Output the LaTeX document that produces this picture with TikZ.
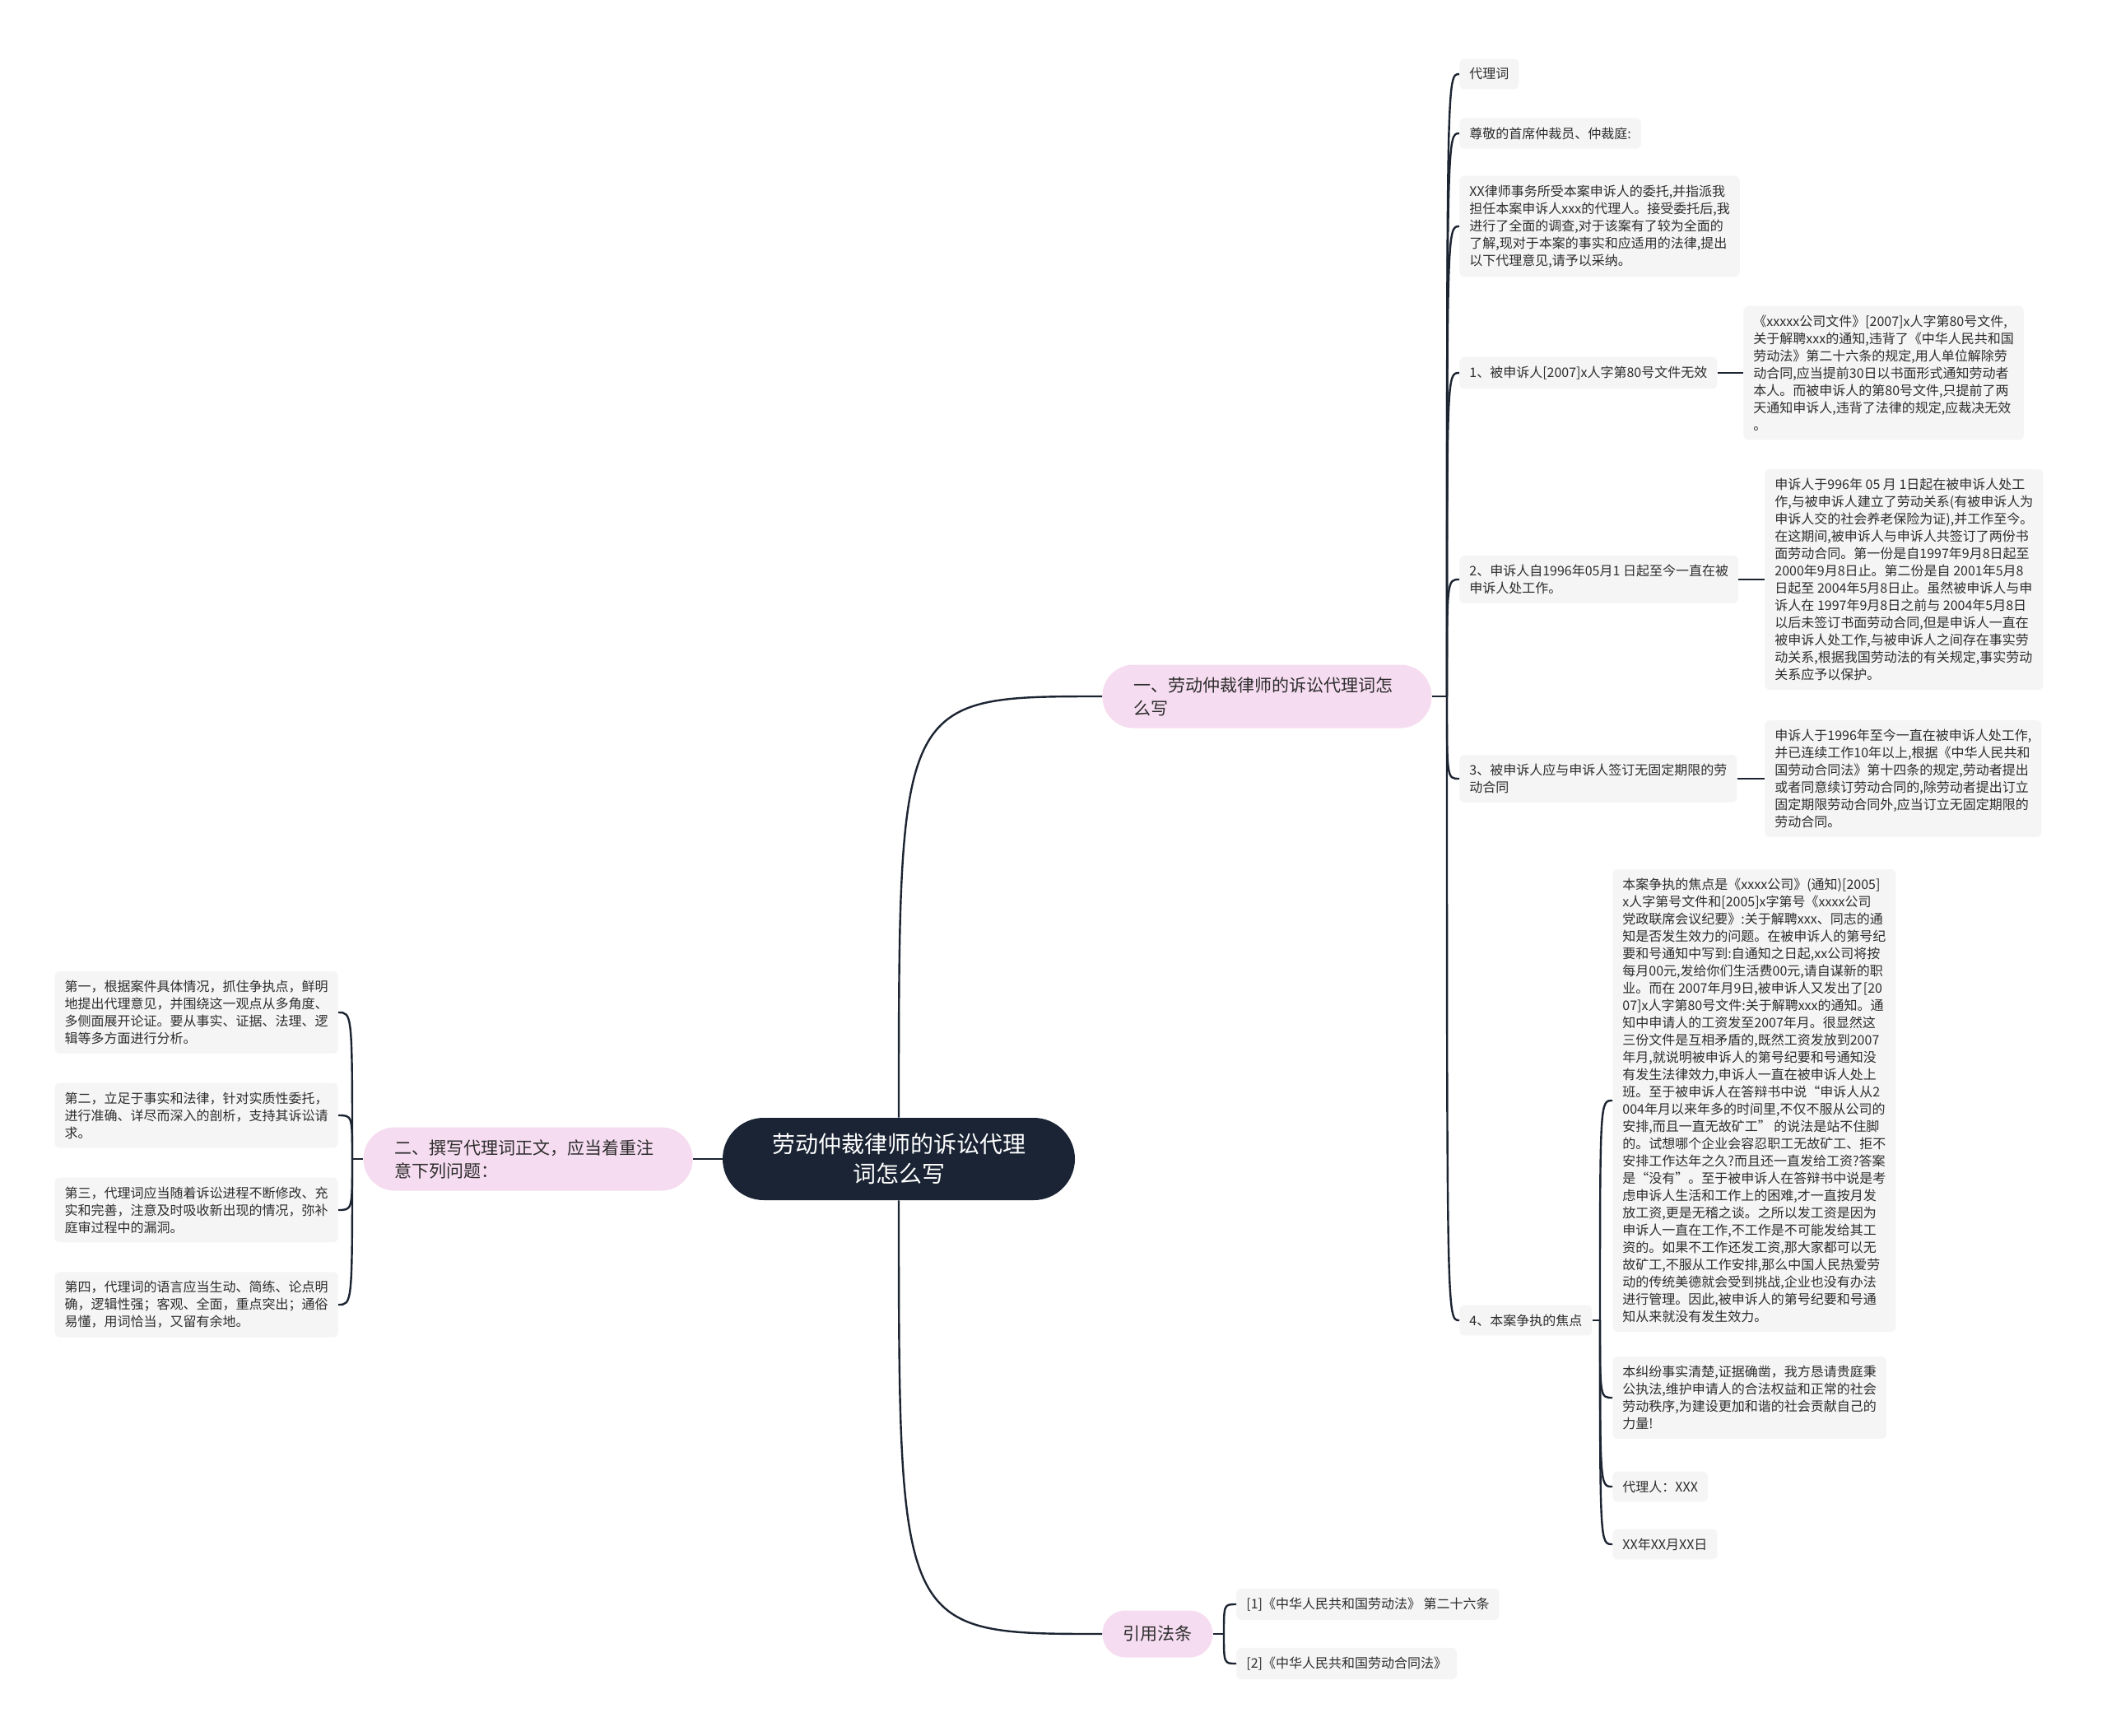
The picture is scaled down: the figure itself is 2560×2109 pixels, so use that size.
\documentclass[tikz,border=0pt]{standalone}
\usepackage{fontspec}
\setmainfont{Noto Sans CJK SC}
\usepackage{xcolor}
\usepackage{tikz}
\definecolor{rootnavy}{RGB}{26,36,52}
\definecolor{topicpink}{RGB}{246,220,240}
\definecolor{leafgrey}{RGB}{245,245,245}
\definecolor{linkdark}{RGB}{28,36,50}
\definecolor{textdark}{RGB}{45,45,45}

\begin{document}
\begin{tikzpicture}[
    x=0.5pt, y=-0.5pt,
    rootbox/.style={rectangle, fill=rootnavy, text=white, rounded corners=25pt, minimum width=214pt, minimum height=50pt, align=center, inner sep=0pt, font=\fontsize{14pt}{18pt}\selectfont},
    topicbox/.style={rectangle, fill=topicpink, text=textdark, rounded corners=19pt, minimum height=38.5pt, inner xsep=19pt, inner ysep=6pt, align=left, font=\fontsize{10.5pt}{14pt}\selectfont},
    leafbox/.style={rectangle, fill=leafgrey, text=textdark, rounded corners=3pt, inner xsep=6pt, inner ysep=5.5pt, align=left, font=\fontsize{8pt}{10.5pt}\selectfont},
    branchline/.style={draw=linkdark, line width=1.2pt}
]

% Canvas
\fill[white] (0,0) rectangle (2560,2109);
\useasboundingbox (0,0) rectangle (2560,2109);

% Central topic
\node[rootbox] (root) at (1092,1408) {劳动仲裁律师的诉讼代理\\词怎么写};

% Main branches
\node[topicbox, text width=162pt, anchor=west] (b1) at (1339,846) {一、劳动仲裁律师的诉讼代理词怎\\么写};
\node[topicbox, text width=162pt, anchor=east] (b2) at (842,1408) {二、撰写代理词正文，应当着重注\\意下列问题：};
\node[topicbox, inner xsep=12.5pt, minimum height=28.5pt, rounded corners=14pt, anchor=west] (b3) at (1339,1985) {引用法条};

% Branch one - items
\node[leafbox, anchor=west] (c1) at (1773,90) {代理词};
\node[leafbox, anchor=west] (c2) at (1773,162) {尊敬的首席仲裁员、仲裁庭:};
\node[leafbox, anchor=west] (c3) at (1773,275) {XX律师事务所受本案申诉人的委托,并指派我\\担任本案申诉人xxx的代理人。接受委托后,我\\进行了全面的调查,对于该案有了较为全面的\\了解,现对于本案的事实和应适用的法律,提出\\以下代理意见,请予以采纳。};
\node[leafbox, anchor=west] (c4) at (1773,453) {1、被申诉人[2007]x人字第80号文件无效};
\node[leafbox, anchor=west] (c5) at (1773,704) {2、申诉人自1996年05月1 日起至今一直在被\\申诉人处工作。};
\node[leafbox, anchor=west] (c6) at (1773,946) {3、被申诉人应与申诉人签订无固定期限的劳\\动合同};
\node[leafbox, anchor=west] (c7) at (1773,1604) {4、本案争执的焦点};

% Branch one - details
\node[leafbox, anchor=west] (l4) at (2118,453) {《xxxxx公司文件》[2007]x人字第80号文件,\\关于解聘xxx的通知,违背了《中华人民共和国\\劳动法》第二十六条的规定,用人单位解除劳\\动合同,应当提前30日以书面形式通知劳动者\\本人。而被申诉人的第80号文件,只提前了两\\天通知申诉人,违背了法律的规定,应裁决无效\\。};
\node[leafbox, anchor=west] (l5) at (2144,704) {申诉人于996年 05 月 1日起在被申诉人处工\\作,与被申诉人建立了劳动关系(有被申诉人为\\申诉人交的社会养老保险为证),并工作至今。\\在这期间,被申诉人与申诉人共签订了两份书\\面劳动合同。第一份是自1997年9月8日起至\\2000年9月8日止。第二份是自 2001年5月8\\日起至 2004年5月8日止。虽然被申诉人与申\\诉人在 1997年9月8日之前与 2004年5月8日\\以后未签订书面劳动合同,但是申诉人一直在\\被申诉人处工作,与被申诉人之间存在事实劳\\动关系,根据我国劳动法的有关规定,事实劳动\\关系应予以保护。};
\node[leafbox, anchor=west] (l6) at (2144,946) {申诉人于1996年至今一直在被申诉人处工作,\\并已连续工作10年以上,根据《中华人民共和\\国劳动合同法》第十四条的规定,劳动者提出\\或者同意续订劳动合同的,除劳动者提出订立\\固定期限劳动合同外,应当订立无固定期限的\\劳动合同。};

% Focus of dispute
\node[leafbox, anchor=west] (d1) at (1959,1337) {本案争执的焦点是《xxxx公司》(通知)[2005]\\x人字第号文件和[2005]x字第号《xxxx公司\\党政联席会议纪要》:关于解聘xxx、同志的通\\知是否发生效力的问题。在被申诉人的第号纪\\要和号通知中写到:自通知之日起,xx公司将按\\每月00元,发给你们生活费00元,请自谋新的职\\业。而在 2007年月9日,被申诉人又发出了[20\\07]x人字第80号文件:关于解聘xxx的通知。通\\知中申请人的工资发至2007年月。很显然这\\三份文件是互相矛盾的,既然工资发放到2007\\年月,就说明被申诉人的第号纪要和号通知没\\有发生法律效力,申诉人一直在被申诉人处上\\班。至于被申诉人在答辩书中说“申诉人从2\\004年月以来年多的时间里,不仅不服从公司的\\安排,而且一直无故矿工” 的说法是站不住脚\\的。试想哪个企业会容忍职工无故矿工、拒不\\安排工作达年之久?而且还一直发给工资?答案\\是“没有”。至于被申诉人在答辩书中说是考\\虑申诉人生活和工作上的困难,才一直按月发\\放工资,更是无稽之谈。之所以发工资是因为\\申诉人一直在工作,不工作是不可能发给其工\\资的。如果不工作还发工资,那大家都可以无\\故矿工,不服从工作安排,那么中国人民热爱劳\\动的传统美德就会受到挑战,企业也没有办法\\进行管理。因此,被申诉人的第号纪要和号通\\知从来就没有发生效力。};
\node[leafbox, anchor=west] (d2) at (1959,1698) {本纠纷事实清楚,证据确凿，我方恳请贵庭秉\\公执法,维护申请人的合法权益和正常的社会\\劳动秩序,为建设更加和谐的社会贡献自己的\\力量!};
\node[leafbox, anchor=west] (d3) at (1959,1806) {代理人：XXX};
\node[leafbox, anchor=west] (d4) at (1959,1876) {XX年XX月XX日};

% Branch two - writing points
\node[leafbox, anchor=east] (e1) at (411,1230) {第一，根据案件具体情况，抓住争执点，鲜明\\地提出代理意见，并围绕这一观点从多角度、\\多侧面展开论证。要从事实、证据、法理、逻\\辑等多方面进行分析。};
\node[leafbox, anchor=east] (e2) at (411,1355) {第二，立足于事实和法律，针对实质性委托，\\进行准确、详尽而深入的剖析，支持其诉讼请\\求。};
\node[leafbox, anchor=east] (e3) at (411,1470) {第三，代理词应当随着诉讼进程不断修改、充\\实和完善，注意及时吸收新出现的情况，弥补\\庭审过程中的漏洞。};
\node[leafbox, anchor=east] (e4) at (411,1585) {第四，代理词的语言应当生动、简练、论点明\\确，逻辑性强；客观、全面，重点突出；通俗\\易懂，用词恰当，又留有余地。};

% Cited laws
\node[leafbox, anchor=west] (g1) at (1502,1949) {[1]《中华人民共和国劳动法》 第二十六条};
\node[leafbox, anchor=west] (g2) at (1502,2021) {[2]《中华人民共和国劳动合同法》};

% Fork points
\coordinate (f1) at (1758,846);
\coordinate (f2) at (428,1408);
\coordinate (f3) at (1487,1985);
\coordinate (f7) at (1944,1604);

% Root connectors
\draw[branchline] (root.north) .. controls (root.north |- b1.west) .. (b1.west);
\draw[branchline] (root.south) .. controls (root.south |- b3.west) .. (b3.west);
\draw[branchline] (root.west) -- (b2.east);

% Branch connectors
\draw[branchline] (b1.east) -- (f1);
\foreach \c in {c1,c2,c3,c4,c5,c6,c7}
  \draw[branchline] (f1) .. controls (f1 |- \c.west) .. (\c.west);
\foreach \a/\b in {c4/l4,c5/l5,c6/l6}
  \draw[branchline] (\a.east) -- (\b.west);

\draw[branchline] (c7.east) -- (f7);
\foreach \c in {d1,d2,d3,d4}
  \draw[branchline] (f7) .. controls (f7 |- \c.west) .. (\c.west);

\draw[branchline] (b2.west) -- (f2);
\foreach \c in {e1,e2,e3,e4}
  \draw[branchline] (f2) .. controls (f2 |- \c.east) .. (\c.east);

\draw[branchline] (b3.east) -- (f3);
\foreach \c in {g1,g2}
  \draw[branchline] (f3) .. controls (f3 |- \c.west) .. (\c.west);

\end{tikzpicture}
\end{document}
